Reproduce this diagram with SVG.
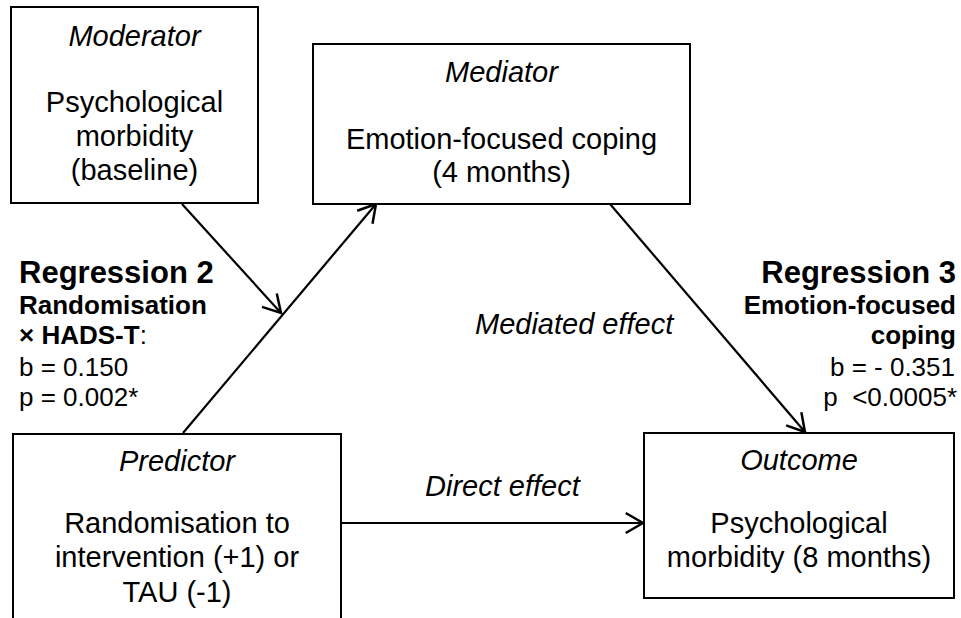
<svg xmlns="http://www.w3.org/2000/svg" width="961" height="618" viewBox="0 0 961 618">
  <defs>
    <style>
      text { font-family: "Liberation Sans", Arial, sans-serif; fill: #000; }
      .box { fill: #fff; stroke: #000; stroke-width: 2; }
      .role { font-size: 29px; font-style: italic; text-anchor: middle; }
      .body { font-size: 29px; text-anchor: middle; }
      .edge-label { font-size: 29px; font-style: italic; }
      .reg-title { font-size: 31px; font-weight: bold; }
      .reg-term { font-size: 26px; font-weight: bold; }
      .reg-stat { font-size: 26px; }
      .right { text-anchor: end; }
      .link { stroke: #000; stroke-width: 2.2; fill: none; marker-end: url(#open-arrow); }
    </style>
    <!-- open "V" arrowhead used by every connector -->
    <marker id="open-arrow" markerUnits="userSpaceOnUse" viewBox="-20 -15 25 30" markerWidth="25" markerHeight="30" refX="0" refY="0" orient="auto" overflow="visible">
      <path d="M-17.3,-10 L0,0 L-17.3,10" fill="none" stroke="#000" stroke-width="2.5" stroke-linejoin="miter"/>
    </marker>
  </defs>

  <rect width="961" height="618" fill="#fff"/>

  <!-- connectors -->
  <g id="connectors">
    <line class="link" x1="183" y1="433" x2="376" y2="204"/>
    <line class="link" x1="182" y1="204" x2="281" y2="313"/>
    <line class="link" x1="610" y1="204" x2="805" y2="432"/>
    <line class="link" x1="341" y1="523" x2="643" y2="523"/>
  </g>

  <!-- nodes -->
  <g id="moderator">
    <rect class="box" x="11" y="7" width="247" height="196"/>
    <text class="role" x="134.5" y="46">Moderator</text>
    <text class="body" x="134.5" y="112">Psychological</text>
    <text class="body" x="134.5" y="146">morbidity</text>
    <text class="body" x="134.5" y="180">(baseline)</text>
  </g>

  <g id="mediator">
    <rect class="box" x="313" y="44" width="377" height="160"/>
    <text class="role" x="501.5" y="82">Mediator</text>
    <text class="body" x="501.5" y="149">Emotion-focused coping</text>
    <text class="body" x="501.5" y="182">(4 months)</text>
  </g>

  <g id="predictor">
    <rect class="box" x="13" y="434" width="328" height="200"/>
    <text class="role" x="177" y="471">Predictor</text>
    <text class="body" x="177" y="533">Randomisation to</text>
    <text class="body" x="177" y="567">intervention (+1) or</text>
    <text class="body" x="177" y="602">TAU (-1)</text>
  </g>

  <g id="outcome">
    <rect class="box" x="644" y="433" width="310" height="165"/>
    <text class="role" x="799" y="470">Outcome</text>
    <text class="body" x="799" y="533">Psychological</text>
    <text class="body" x="799" y="567">morbidity (8 months)</text>
  </g>

  <!-- path labels -->
  <g id="path-labels">
    <text class="edge-label" x="475" y="334">Mediated effect</text>
    <text class="edge-label" x="425" y="496">Direct effect</text>
  </g>

  <!-- regression results -->
  <g id="regression-2">
    <text class="reg-title" x="19" y="283">Regression 2</text>
    <text class="reg-term" x="19" y="314">Randomisation</text>
    <text class="reg-term" x="19" y="344">× HADS-T<tspan font-weight="normal">:</tspan></text>
    <text class="reg-stat" x="19" y="376">b = 0.150</text>
    <text class="reg-stat" x="19" y="406">p = 0.002*</text>
  </g>

  <g id="regression-3">
    <text class="reg-title right" x="956" y="283">Regression 3</text>
    <text class="reg-term right" x="956" y="314">Emotion-focused</text>
    <text class="reg-term right" x="956" y="344">coping</text>
    <text class="reg-stat right" x="955" y="376">b = - 0.351</text>
    <text class="reg-stat right" x="957" y="406" xml:space="preserve">p  &lt;0.0005*</text>
  </g>
</svg>
